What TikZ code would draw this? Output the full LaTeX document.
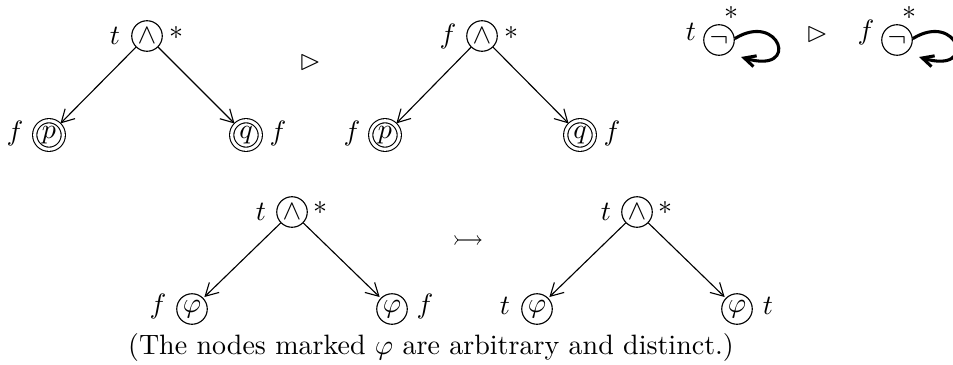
\documentclass[tikz,border=0pt]{standalone}
\usepackage{amsfonts,amsmath,amssymb}
\usetikzlibrary{arrows.meta}
\begin{document}
\begin{tikzpicture}[x=0.357pt,y=-0.357pt,
    opnode/.style={draw,circle,minimum size=10.9pt,inner sep=0pt},
    leafnode/.style={draw,circle,double,double distance=1.1pt,minimum size=10.2pt,inner sep=0pt},
    tag/.style={inner sep=0pt},
    edge/.style={-{Straight Barb[length=4.5pt,width=5pt]},shorten >=0.5pt},
    loopedge/.style={line width=1.1pt,-{Straight Barb[length=4pt,width=4pt]}}]
    \useasboundingbox (0,0) rectangle (953,364);

    % top left: t-and with two false leaves
    \node[opnode] (r1) at (147,36) {$\wedge$};
    \node[tag] (r1t) at (115,36) {$t$};
    \node[tag] (r1s) at (176,33) {$*$};
    \node[leafnode] (p1) at (49,135) {$p$};
    \node[tag] (p1f) at (15,133) {$f$};
    \node[leafnode] (q1) at (246,135) {$q$};
    \node[tag] (q1f) at (278,133) {$f$};
    \draw[edge] (r1) -- (p1);
    \draw[edge] (r1) -- (q1);

    \node[tag] (tri1) at (310,62) {$\rhd$};

    % top middle: f-and
    \node[opnode] (r2) at (482,36) {$\wedge$};
    \node[tag] (r2f) at (448,36) {$f$};
    \node[tag] (r2s) at (511,33) {$*$};
    \node[leafnode] (p2) at (385,135) {$p$};
    \node[tag] (p2f) at (352,133) {$f$};
    \node[leafnode] (q2) at (580,135) {$q$};
    \node[tag] (q2f) at (612,133) {$f$};
    \draw[edge] (r2) -- (p2);
    \draw[edge] (r2) -- (q2);

    % top right: negation loops
    \node[opnode] (n1) at (719,40) {$\neg$};
    \node[tag] (n1t) at (691,32) {$t$};
    \node[tag] (n1s) at (731,13) {$*$};
    \coordinate (e1) at (741,57);
    \draw[loopedge] (n1.5) .. controls +(45,-28) and +(60,18) .. (e1);

    \node[tag] (tri2) at (817,34) {$\rhd$};

    \node[opnode] (n2) at (897,40) {$\neg$};
    \node[tag] (n2f) at (866,32) {$f$};
    \node[tag] (n2s) at (909,13) {$*$};
    \coordinate (e2) at (919,57);
    \draw[loopedge] (n2.5) .. controls +(45,-28) and +(60,18) .. (e2);

    % bottom: arbitrary subterms
    \node[opnode] (r3) at (292,212) {$\wedge$};
    \node[tag] (r3t) at (261,212) {$t$};
    \node[tag] (r3s) at (320,208) {$*$};
    \node[opnode] (a3) at (192,309) {$\varphi$};
    \node[tag] (a3f) at (158,306) {$f$};
    \node[opnode] (b3) at (392,309) {$\varphi$};
    \node[tag] (b3f) at (425,306) {$f$};
    \draw[edge] (r3) -- (a3);
    \draw[edge] (r3) -- (b3);

    \node[tag] (tail) at (468,240) {$\rightarrowtail$};

    \node[opnode] (r4) at (637,212) {$\wedge$};
    \node[tag] (r4t) at (606,212) {$t$};
    \node[tag] (r4s) at (665,208) {$*$};
    \node[opnode] (a4) at (537,309) {$\varphi$};
    \node[tag] (a4t) at (505,306) {$t$};
    \node[opnode] (b4) at (737,309) {$\varphi$};
    \node[tag] (b4t) at (768,306) {$t$};
    \draw[edge] (r4) -- (a4);
    \draw[edge] (r4) -- (b4);

    \node (note) at (431,347) {(The nodes marked $\varphi$ are arbitrary and distinct.)};
\end{tikzpicture}
\end{document}
